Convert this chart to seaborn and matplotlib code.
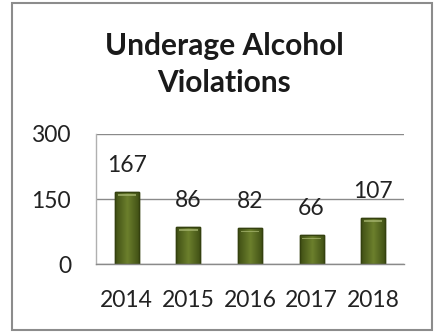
import matplotlib
matplotlib.use("Agg")
import matplotlib.pyplot as plt
from matplotlib.patches import Rectangle
import numpy as np
import pandas as pd
import seaborn as sns

years = ["2014", "2015", "2016", "2017", "2018"]
violations = [167, 86, 82, 66, 107]
y_ticks = [0, 150, 300]
title = "Underage Alcohol\nViolations"

sns.set_theme(style="white")
plt.rcParams["font.family"] = ["Lato", "DejaVu Sans"]

df = pd.DataFrame({"year": years, "count": violations})

fig = plt.figure(figsize=(4.37, 3.33), dpi=100)
fig.patch.set_facecolor("white")
ax = fig.add_axes([0.2197, 0.2072, 0.7048, 0.3904])

sns.barplot(data=df, x="year", y="count", ax=ax, width=0.39,
            color="#55671f", edgecolor="#34410f", linewidth=1.0,
            saturation=1)

# soft bevel highlight on each bar
grad = np.linspace(0, 1, 64)
shade = 1 - np.abs(grad - 0.5) * 2
cmap = matplotlib.colors.LinearSegmentedColormap.from_list(
    "olive", ["#3f4e14", "#6b7f2c"])
for p in list(ax.patches):
    x0, y0 = p.get_x(), p.get_y()
    w, h = p.get_width(), p.get_height()
    im = ax.imshow(shade[None, :], cmap=cmap, aspect="auto",
                   extent=[x0, x0 + w, y0, y0 + h], zorder=p.get_zorder() + 0.1)
    im.set_clip_path(p)
    ax.add_patch(Rectangle((x0 + w * 0.12, y0 + h - 9), w * 0.76, 4,
                           facecolor="#a9b873", edgecolor="none", alpha=0.7,
                           zorder=p.get_zorder() + 0.2))
    ax.add_patch(Rectangle((x0, y0), w, h, facecolor="none",
                           edgecolor="#34410f", linewidth=1.0,
                           zorder=p.get_zorder() + 0.3))

for i, v in enumerate(violations):
    ax.annotate(str(v), xy=(i, v), xytext=(0, 14.4), textcoords="offset points",
                ha="center", va="baseline", fontsize=16.5, color="#222222")

ax.set_xlim(-0.5, 4.5)
ax.set_ylim(0, 300)
ax.set_yticks(y_ticks)
ax.set_yticklabels([str(t) for t in y_ticks])
ax.set_xlabel("")
ax.set_ylabel("")
ax.tick_params(axis="y", length=0, pad=18, labelsize=16.5, labelcolor="#222222")
ax.tick_params(axis="x", length=0, pad=19, labelsize=16.5, labelcolor="#222222")
ax.yaxis.grid(True, color="#8a8a8a", linewidth=1.0)
ax.set_axisbelow(True)
for side in ["top", "right"]:
    ax.spines[side].set_visible(False)
ax.spines["left"].set_color("#b0b0b0")
ax.spines["bottom"].set_color("#8a8a8a")
ax.spines["left"].set_linewidth(1.0)
ax.spines["bottom"].set_linewidth(1.0)

fig.text(0.5126, 0.806, title, ha="center", va="center", fontsize=21.5,
         fontweight="bold", color="#1a1a1a", linespacing=1.38,
         multialignment="center")

fig.patches.append(Rectangle((12 / 437, 3 / 333), 420 / 437, 327 / 333,
                             transform=fig.transFigure, facecolor="none",
                             edgecolor="#8c8c8c", linewidth=1.5))

fig.savefig("out.png", dpi=100, facecolor="white")
